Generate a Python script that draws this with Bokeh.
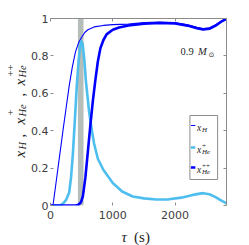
import math
from bokeh.plotting import figure
from bokeh.layouts import row, column
from bokeh.models import Range1d, FixedTicker, LinearAxis, Label, CustomJSTickFormatter
from bokeh.core.properties import value
from bokeh.embed import file_html
from bokeh.resources import INLINE

# ---------------- data ----------------
t_H = [0, 40, 100, 150, 200, 250, 300, 350, 400, 450, 500, 550, 600, 700, 850, 1000,
       1250, 1500, 1750, 2000, 2200, 2350, 2450, 2550, 2650, 2750, 2825]
x_H = [0, 0, 0.15, 0.275, 0.40, 0.52, 0.64, 0.74, 0.82, 0.87, 0.90, 0.925, 0.94, 0.955,
       0.963, 0.967, 0.97, 0.978, 0.981, 0.978, 0.967, 0.953, 0.946, 0.95, 0.966, 0.988, 0.999]

t_He1 = [0, 150, 200, 250, 300, 330, 360, 390, 420, 450, 475, 495, 515, 540, 570, 620, 660,
         700, 760, 850, 1000, 1150, 1320, 1500, 1700, 1900, 2100, 2300, 2450, 2550, 2650,
         2750, 2825]
x_He1 = [0, 0, 0.01, 0.03, 0.07, 0.15, 0.28, 0.45, 0.63, 0.77, 0.85, 0.878, 0.865, 0.79,
         0.66, 0.50, 0.41, 0.33, 0.25, 0.19, 0.12, 0.075, 0.048, 0.038, 0.032, 0.033, 0.042,
         0.058, 0.066, 0.06, 0.045, 0.025, 0.012]

t_He2 = [0, 400, 450, 490, 520, 560, 600, 640, 680, 720, 760, 800, 850, 900, 1000, 1100,
         1250, 1500, 1750, 2000, 2200, 2350, 2450, 2550, 2650, 2750, 2825]
x_He2 = [0, 0, 0.004, 0.018, 0.05, 0.15, 0.29, 0.43, 0.56, 0.67, 0.77, 0.84, 0.885, 0.915,
         0.94, 0.952, 0.963, 0.972, 0.976, 0.973, 0.962, 0.948, 0.941, 0.945, 0.962, 0.985,
         0.998]

band = [440, 530]          # shaded time interval (s)
x_lim = [0, 2825]
y_lim = [0, 1]
x_ticks = [0, 1000, 2000]
y_ticks = [0, 0.2, 0.4, 0.6, 0.8, 1]
mass_label = "0.9"

# ---------------- styling ----------------
C_H = "#0000ff"
C_HE1 = "#4dbeee"
C_HE2 = "#0000ff"
BAND = "#b6beba"
FRAME = "#8c8c8c"
TXT = "#262626"
SERIF = "Liberation Serif"
FW, FH = 178, 187  # frame size in px


def bare(fig):
    fig.outline_line_color = None
    fig.grid.visible = False
    fig.background_fill_color = "white"
    fig.border_fill_color = "white"


# ---------------- main plot ----------------
p = figure(width=221, height=224, x_range=Range1d(*x_lim), y_range=Range1d(*y_lim),
           output_backend="svg", toolbar_location=None, title=None,
           min_border_left=20, min_border_right=23, min_border_top=18, min_border_bottom=19)
bare(p)


def style_axis(ax, ticks, show_labels, line):
    ax.ticker = FixedTicker(ticks=ticks)
    ax.axis_line_color = FRAME if line else None
    ax.major_tick_in = 3
    ax.major_tick_out = 0
    ax.major_tick_line_color = FRAME
    ax.minor_tick_line_color = None
    ax.axis_label = None
    if show_labels:
        ax.major_label_text_font = "DejaVu Sans"
        ax.major_label_text_font_size = "11px"
        ax.major_label_text_color = "#404040"
    else:
        ax.formatter = CustomJSTickFormatter(code="return ''")
        ax.major_label_standoff = 0


style_axis(p.xaxis[0], x_ticks, True, False)
p.xaxis[0].major_label_standoff = 5
style_axis(p.yaxis[0], y_ticks, True, False)
p.yaxis[0].major_label_standoff = 2
p.yaxis[0].formatter = CustomJSTickFormatter(code="return String(tick)")

top = LinearAxis()
style_axis(top, x_ticks, False, True)
p.add_layout(top, "above")
right = LinearAxis()
style_axis(right, y_ticks, False, True)
p.add_layout(right, "right")

# shaded band
p.quad(left=[band[0]], right=[band[1]], bottom=[y_lim[0]], top=[y_lim[1]],
       fill_color=BAND, line_color=None)

# curves
p.line(t_H, x_H, line_color=C_H, line_width=1.1)
p.line(t_He1, x_He1, line_color=C_HE1, line_width=2.6, line_join="round")
p.line(t_He2, x_He2, line_color=C_HE2, line_width=2.6, line_join="round")


def lab(x, y, text, size, style="italic", color=TXT, font=SERIF):
    p.add_layout(Label(x=x, y=y, x_units="screen", y_units="screen", text=text,
                       text_font=font, text_font_size=f"{size}px", text_font_style=style,
                       text_color=color, text_baseline="alphabetic", text_align="left"))


# mass annotation (frame-relative px)
lab(130, 154, mass_label, 10.5, style="normal")
lab(147.5, 154, "M", 10.5)
lab(158, 150.5, "⊙", 7, style="normal", font="DejaVu Sans")

# manual legend (positions as frame fractions)
sx = (x_lim[1] - x_lim[0]) / FW
sy = (y_lim[1] - y_lim[0]) / FH
lx0, lx1, ly0, ly1 = 141, 169, 26, 90
p.quad(left=[lx0 * sx], right=[lx1 * sx], bottom=[ly0 * sy], top=[ly1 * sy],
       fill_color="white", line_color=FRAME, line_width=1)
rows = [(80, C_H, 1.1, "H", ""), (58, C_HE1, 2.6, "He", "+"), (38, C_HE2, 2.6, "He", "++")]
for yy, col, lw, sub, sup in rows:
    p.segment(x0=[142 * sx], x1=[146.5 * sx], y0=[yy * sy], y1=[yy * sy], line_color=col, line_width=lw)
    lab(146.5, yy - 2.5, "x", 9.5)
    lab(151.5, yy - 4.5, sub, 7)
    if sup:
        lab(151.5, yy + 1.5, sup, 7, style="normal")

# ---------------- y-axis label strip ----------------
LW_, LH_ = 28, 245
L = figure(width=LW_, height=LH_, x_range=Range1d(0, LW_), y_range=Range1d(0, LH_),
           output_backend="svg", toolbar_location=None, x_axis_type=None, y_axis_type=None,
           title=None, min_border=0)
bare(L)

A = math.pi / 2   # text reads bottom-to-top
MB, SB, PB = 19, 21.5, 9.5   # baselines: main / subscript / superscript
ylab_pieces = [
    (MB, 88, "x", 15, "italic"),
    (SB, 96, "H", 10.5, "italic"),
    (MB, 108, ",", 15, "normal"),
    (MB, 121, "x", 15, "italic"),
    (SB, 129, "He", 10.5, "italic"),
    (PB, 130, "+", 10.5, "normal"),
    (MB, 149, ",", 15, "normal"),
    (MB, 160, "x", 15, "italic"),
    (SB, 168, "He", 10.5, "italic"),
    (PB, 169, "++", 10.5, "normal"),
]
for xx, yy, tt, fs, st in ylab_pieces:
    L.text(x=[xx], y=[yy], text=[tt], angle=A, text_font=value(SERIF),
           text_font_size=value(f"{fs}px"), text_font_style=value(st),
           text_color=TXT, text_align="left", text_baseline="alphabetic")

# ---------------- x-axis label strip ----------------
BW_, BH_ = 221, 21
B = figure(width=BW_, height=BH_, x_range=Range1d(0, BW_), y_range=Range1d(0, BH_),
           output_backend="svg", toolbar_location=None, x_axis_type=None, y_axis_type=None,
           title=None, min_border=0)
bare(B)
B.text(x=[89], y=[9], text=["τ"], text_font=value(SERIF), text_font_size=value("15px"),
       text_font_style=value("italic"), text_color=TXT, text_align="left", text_baseline="alphabetic")
B.text(x=[105], y=[9], text=["(s)"], text_font=value(SERIF), text_font_size=value("15px"),
       text_font_style=value("normal"), text_color=TXT, text_align="left", text_baseline="alphabetic")

layout = row(L, column(p, B))
open("out.html", "w").write(file_html(layout, INLINE))
